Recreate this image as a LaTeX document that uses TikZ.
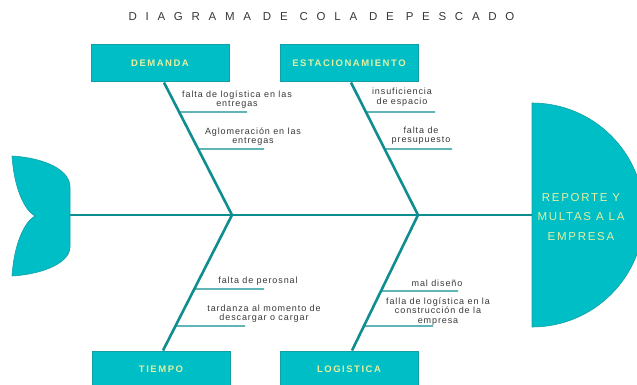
\documentclass[tikz,border=0pt]{standalone}
\usepackage{fontspec}
\setmainfont{Liberation Sans}
\definecolor{fishteal}{RGB}{0,190,198}
\definecolor{boneteal}{RGB}{14,142,144}
\definecolor{boxedge}{RGB}{18,160,166}
\definecolor{paleyel}{RGB}{228,240,160}
\definecolor{labgray}{RGB}{55,55,55}
\tikzset{
  catbox/.style={draw=boxedge, line width=1pt, fill=fishteal, minimum width=138pt, minimum height=37pt,
    text=paleyel, font=\fontsize{9.5}{10}\selectfont\bfseries\addfontfeature{LetterSpace=16}},
  bone/.style={boneteal, line width=2.6pt},
  twig/.style={boneteal, line width=1.3pt},
  cause/.style={text=labgray, align=center, inner sep=0pt,
    font=\fontsize{9}{9.5}\selectfont\addfontfeature{LetterSpace=10}}
}
\begin{document}
\begin{tikzpicture}[x=1pt, y=-1pt]
\useasboundingbox (0,0) rectangle (637,385);
\clip (0,0) rectangle (637,385);
\node[text=labgray, font=\fontsize{11.5}{12}\selectfont\addfontfeature{LetterSpace=76}] (title) at (321.5,16.5) {DIAGRAMA DE COLA DE PESCADO};
% tail
\draw[boxedge, fill=fishteal, line width=.6pt] (12,156) .. controls (45,158) and (70,170) .. (70,187) -- (70,247)
  .. controls (70,262) and (45,274) .. (12,276) .. controls (14,245) and (24,222) .. (35,216)
  .. controls (24,210) and (14,187) .. (12,156) -- cycle;
% head
\draw[boxedge, fill=fishteal, line width=.6pt] (532,103) arc (-90:90:112) -- cycle;
\node[text=paleyel, align=center, font=\fontsize{11.5}{19.5}\selectfont\addfontfeature{LetterSpace=15}] (effect) at (581,217) {REPORTE Y\\MULTAS A LA\\EMPRESA};
% spine
\coordinate (tailend) at (70,215);
\coordinate (headend) at (532,215);
\coordinate (jl) at (232,215);
\coordinate (jr) at (418,215);
\draw[bone] (tailend) -- (headend);
% boxes
\node[catbox] (dem) at (160,63.5) {DEMANDA};
\node[catbox] (est) at (349,63.5) {ESTACIONAMIENTO};
\node[catbox] (tie) at (161,369.5) {TIEMPO};
\node[catbox] (log) at (349,369.5) {LOGISTICA};
\coordinate (dtop) at ([xshift=4pt]dem.south);
\coordinate (etop) at ([xshift=2pt]est.south);
\coordinate (tbot) at ([xshift=2pt]tie.north);
\coordinate (lbot) at ([xshift=3pt]log.north);
\draw[bone] (dtop) -- (jl);
\draw[bone] (etop) -- (jr);
\draw[bone] (tbot) -- (jl);
\draw[bone] (lbot) -- (jr);
% sub-causes
\foreach \n/\p/\q/\yy/\xe in {1/dtop/jl/112/247, 2/dtop/jl/149/264, 3/etop/jr/112/435, 4/etop/jr/149/452,
  5/tbot/jl/289/264, 6/tbot/jl/326/245, 7/lbot/jr/291/458, 8/lbot/jr/326/433}
{
  \coordinate (s\n) at (intersection cs: first line={(\p)--(\q)}, second line={(0,\yy)--(600,\yy)});
  \coordinate (e\n) at (\xe,\yy);
  \draw[twig] (s\n) -- (e\n);
}
\node[cause] (c1) at (237,99.5) {falta de logística en las\\entregas};
\node[cause] (c2) at (253,136.5) {Aglomeración en las\\entregas};
\node[cause] (c3) at (402,97) {insuficiencia\\de espacio};
\node[cause] (c4) at (421,135.5) {falta de\\presupuesto};
\node[cause] (c5) at (258,281) {falta de perosnal};
\node[cause] (c6) at (264,313.5) {tardanza al momento de\\descargar o cargar};
\node[cause] (c7) at (437,283) {mal diseño};
\node[cause] (c8) at (438,311.5) {falla de logística en la\\construcción de la\\empresa};
\end{tikzpicture}
\end{document}
